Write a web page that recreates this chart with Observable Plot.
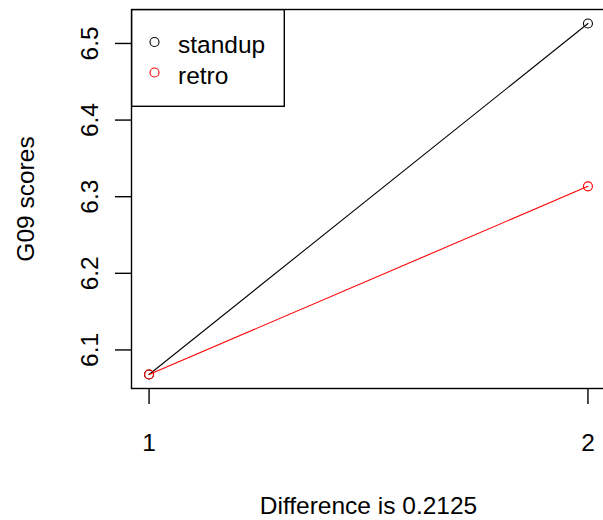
<!DOCTYPE html>
<html>
<head>
<meta charset="utf-8">
<script src="https://cdn.jsdelivr.net/npm/d3@7"></script>
<script src="https://cdn.jsdelivr.net/npm/@observablehq/plot@0.6"></script>
<style>
  html, body { margin: 0; padding: 0; background: white; }
  #wrap { position: relative; width: 603px; height: 520px; overflow: hidden; }
  #legend { position: absolute; left: 131px; top: 9px; }
</style>
</head>
<body>
<div id="wrap"></div>
<script>
// ---- data ----
const xValues = [1, 2];
const standup = [6.068, 6.526];
const retro = [6.068, 6.3135];
const seriesNames = ["standup", "retro"];
const seriesColors = ["black", "red"];
const xTicks = [1, 2];
const yTicks = [6.1, 6.2, 6.3, 6.4, 6.5];
const yTitle = "G09 scores";
const xTitle = "Difference is 0.2125";

const seriesValues = [standup, retro];
const rows = [];
seriesNames.forEach((name, i) => {
  xValues.forEach((x, j) => rows.push({series: name, color: seriesColors[i], x, y: seriesValues[i][j]}));
});

// R-style 4% range extension
const ext = ([lo, hi]) => [lo - 0.04 * (hi - lo), hi + 0.04 * (hi - lo)];
const xDomain = ext(d3.extent(xValues));
const yDomain = ext(d3.extent(rows, d => d.y));

const FONT = "'Liberation Sans', Arial, sans-serif";
const FS = 24.5;
const fmt = d => String(d);

const marks = [
  Plot.frame({stroke: "black", strokeWidth: 1.4}),
  Plot.axisX(xTicks, {tickSize: 16, tickPadding: 29, label: null, fontSize: FS, strokeWidth: 1.4, tickFormat: fmt}),
  Plot.axisY(yTicks, {tickSize: 16, tickPadding: 18, tickRotate: -90, label: null, fontSize: FS, strokeWidth: 1.4, tickFormat: fmt}),
];
seriesNames.forEach((name, i) => {
  const d = rows.filter(r => r.series === name);
  marks.push(Plot.line(d, {x: "x", y: "y", stroke: seriesColors[i], strokeWidth: 1.1}));
  marks.push(Plot.dot(d, {x: "x", y: "y", r: 4.5, stroke: seriesColors[i], fill: "none", strokeWidth: 1.1}));
});
marks.push(
  Plot.text([yTitle], {text: d => d, frameAnchor: "left", rotate: -90, dx: -98, lineAnchor: "bottom", textAnchor: "middle", fontSize: FS}),
  Plot.text([xTitle], {text: d => d, frameAnchor: "bottom", dy: 125, lineAnchor: "bottom", textAnchor: "middle", fontSize: FS})
);

const chart = Plot.plot({
  width: 603,
  height: 520,
  marginLeft: 131,
  marginRight: -2,
  marginTop: 9,
  marginBottom: 132,
  style: {fontFamily: FONT, fontSize: FS + "px", background: "white", color: "black"},
  x: {domain: xDomain},
  y: {domain: yDomain},
  marks
});
document.getElementById("wrap").appendChild(chart);

// ---- legend (R "topleft" box) ----
const lg = d3.select("#wrap").append("svg")
  .attr("id", "legend")
  .attr("width", 155).attr("height", 99)
  .style("font-family", FONT).style("font-size", FS + "px");
lg.append("rect").attr("x", 0.7).attr("y", 0.7).attr("width", 152.6).attr("height", 96.6)
  .attr("fill", "white").attr("stroke", "black").attr("stroke-width", 1.4);
seriesNames.forEach((name, i) => {
  lg.append("circle").attr("cx", 23.5).attr("cy", 33 + i * 30.5).attr("r", 4.5)
    .attr("fill", "none").attr("stroke", seriesColors[i]).attr("stroke-width", 1.1);
  lg.append("text").attr("x", 47).attr("y", 44 + i * 30.5).attr("fill", "black").text(name);
});
</script>
</body>
</html>
